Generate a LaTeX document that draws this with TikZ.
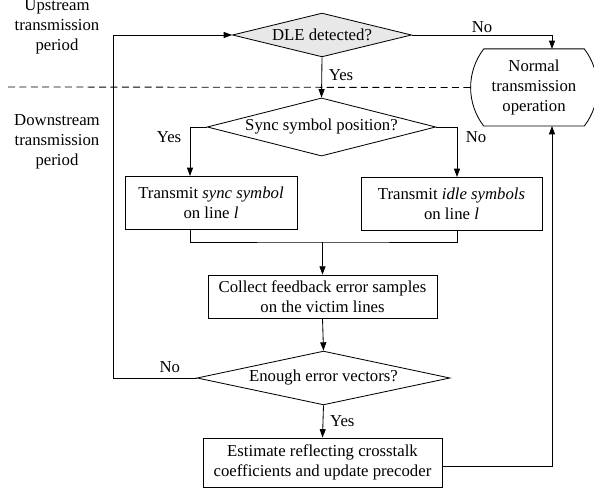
\documentclass[tikz,border=0pt]{standalone}
\usepackage{fontspec}
\setmainfont{Liberation Serif}
\usetikzlibrary{shapes.geometric,shapes.misc,arrows.meta}

\tikzset{
  decision/.style={diamond, draw, aspect=5, inner sep=0pt, align=center},
  process/.style={rectangle, draw, inner sep=2pt, align=center},
  terminal/.style={rounded rectangle, rounded rectangle arc length=75, draw, align=center, inner sep=1pt},
  arr/.style={-{Triangle[length=5pt,width=3.6pt]}},
  lbl/.style={inner sep=1pt}
}

\begin{document}
\begin{tikzpicture}[x=0.021cm, y=-0.021cm, font=\fontsize{10}{12}\selectfont, line width=0.5pt]
        \useasboundingbox (0,0) rectangle (594,492);

        % Period labels
        \node (up) at (57,27) [align=center] {Upstream\\transmission\\period};
        \node (down) at (57,142) [align=center] {Downstream\\transmission\\period};

        % Nodes
        \node (dle) at (322,35) [decision, fill=gray!18, minimum width=3.76cm, minimum height=0.92cm] {DLE detected?};
        \node (normal) at (534,87.5) [terminal, minimum width=2.44cm, minimum height=1.62cm] {Normal\\transmission\\operation};
        \node (sync) at (321.5,127) [decision, minimum width=4.68cm, minimum height=1.22cm] {Sync symbol position?};
        \node (syncbox) at (211,203) [process, minimum width=3.61cm, minimum height=1.13cm] {Transmit \textit{sync symbol}\\on line \textit{l}};
        \node (idlebox) at (451.5,203.5) [process, minimum width=3.80cm, minimum height=1.11cm] {Transmit \textit{idle symbols}\\on line \textit{l}};
        \node (collect) at (322.5,296.5) [process, minimum width=4.81cm, minimum height=0.90cm] {Collect feedback error samples\\on the victim lines};
        \node (enough) at (323.5,378) [decision, minimum width=5.31cm, minimum height=1.13cm] {Enough error vectors?};
        \node (estimate) at (322.5,462.5) [process, minimum width=5.02cm, minimum height=1.03cm] {Estimate reflecting crosstalk\\coefficients and update precoder};

        % Helper points
        \coordinate (loopx) at (113,0);
        \coordinate (normalin) at (552,49);
        \coordinate (normalout) at (552,126);
        \coordinate (syncin) at (190,176);
        \coordinate (syncout) at (190,230);
        \coordinate (idlein) at (457,177);
        \coordinate (idleout) at (457,230);
        \coordinate (join) at (322.5,242);
        \coordinate (dashstart) at (8,87);

        % Period border
        \draw[dashed, dash pattern=on 4.2pt off 2.6pt] (dashstart) -- (normal.west);

        % Edges
        \draw[arr] (dle.south) -- (sync.north) node[lbl, pos=0.45, right=3pt] {Yes};
        \draw[arr] (dle.east) -| (normalin) node[lbl, pos=0.25, above] {No};
        \draw[arr] (sync.west) -| (syncin) node[lbl, pos=0.6, left=4pt] {Yes};
        \draw[arr] (sync.east) -| (idlein) node[lbl, pos=0.6, right=4pt] {No};
        \draw (syncout) |- (join) -| (idleout);
        \draw[arr] (join) -- (collect.north);
        \draw[arr] (collect.south) -- (enough.north);
        \draw[arr] (enough.west) -- node[lbl, pos=0.32, above=2pt] {No} (enough.west -| loopx) |- (dle.west);
        \draw[arr] (enough.south) -- (estimate.north) node[lbl, midway, right=3pt] {Yes};
        \draw[arr] ([yshift=-3.5*0.021cm]estimate.east) -| (normalout);
    \end{tikzpicture}
\end{document}
